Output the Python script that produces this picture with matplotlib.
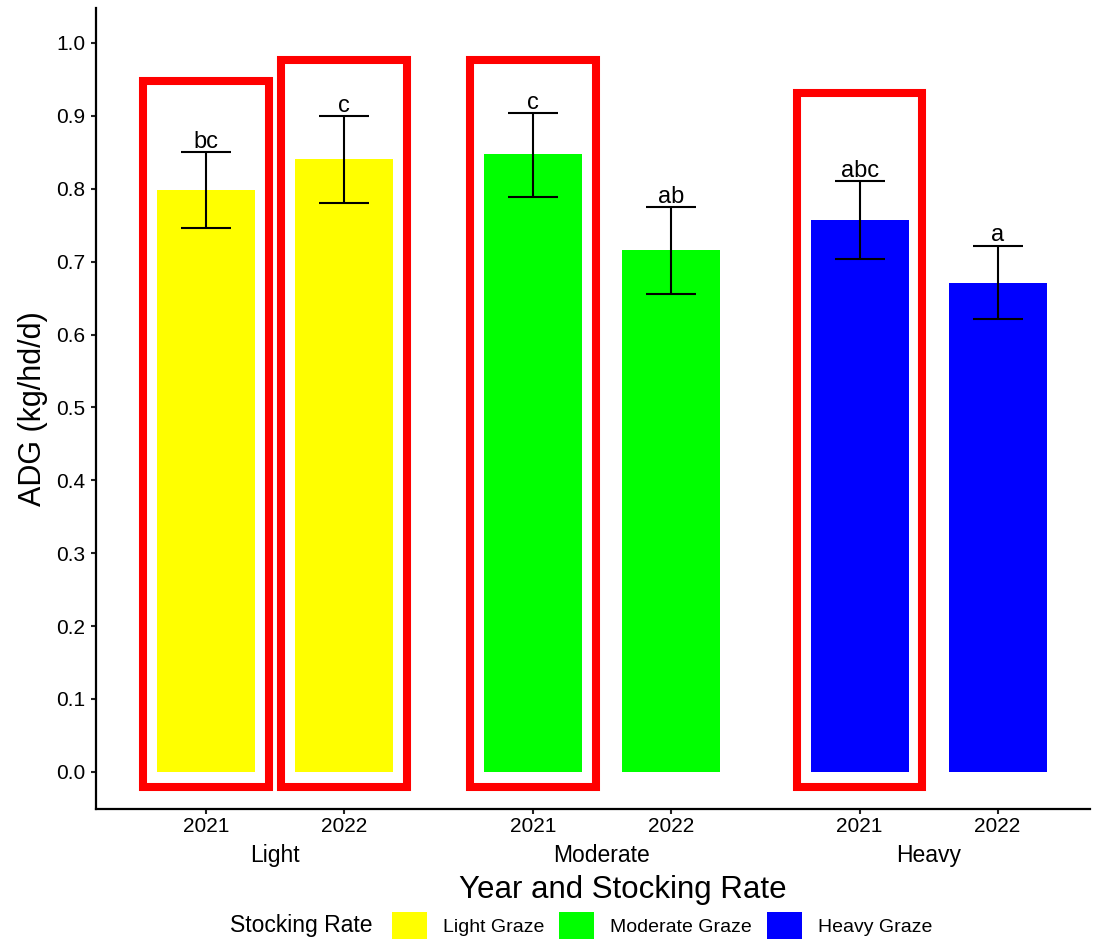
import matplotlib
matplotlib.use('Agg')
import matplotlib.pyplot as plt
from matplotlib.patches import Patch, Rectangle

plt.rcParams['font.family'] = ['Liberation Sans', 'DejaVu Sans']

# data
groups = ['Light', 'Moderate', 'Heavy']
years = ['2021', '2022']
adg = [0.798, 0.841, 0.848, 0.716, 0.757, 0.671]
err_hi = [0.850, 0.900, 0.904, 0.775, 0.811, 0.722]
err_lo = [0.746, 0.781, 0.789, 0.656, 0.704, 0.621]
letters = ['bc', 'c', 'c', 'ab', 'abc', 'a']
box_top = [0.948, 0.977, 0.977, None, 0.931, None]   # red highlight boxes
legend_labels = ['Light Graze', 'Moderate Graze', 'Heavy Graze']
group_colors = ['#FFFF00', '#00FF00', '#0000FF']

group_step = 2.37
xpos = [g * group_step + j for g in range(len(groups)) for j in range(len(years))]
bar_colors = [group_colors[g] for g in range(len(groups)) for j in range(len(years))]

fig = plt.figure(figsize=(10.95, 9.39), dpi=100)
ax = fig.add_axes([0.0877, 0.1384, 0.9077, 0.8531])

ax.bar(xpos, adg, width=0.71, color=bar_colors, zorder=2)
yerr = [[a - lo for a, lo in zip(adg, err_lo)], [hi - a for a, hi in zip(adg, err_hi)]]
ax.errorbar(xpos, adg, yerr=yerr, fmt='none', ecolor='black',
            elinewidth=1.5, capsize=18, capthick=1.5, zorder=3)

for x, hi, lab in zip(xpos, err_hi, letters):
    ax.annotate(lab, (x, hi), xytext=(0, 3), textcoords='offset points',
                ha='center', va='baseline', fontsize=17)

# red boxes around selected bars
for x, top in zip(xpos, box_top):
    if top is None:
        continue
    ax.add_patch(Rectangle((x - 0.455, -0.021), 0.91, top + 0.021, fill=False,
                           edgecolor='#FF0000', linewidth=5.8, zorder=4))

ax.set_xlim(-0.797, 6.41)
ax.set_ylim(-0.051, 1.048)
ax.set_yticks([i / 10 for i in range(11)])
ax.set_yticklabels([f'{i / 10:.1f}' for i in range(11)])
ax.set_xticks(xpos)
ax.set_xticklabels(years * len(groups))
ax.tick_params(axis='both', labelsize=15, width=1.5, length=3.6, color='#222222')
ax.tick_params(axis='y', pad=4.0)
ax.tick_params(axis='x', pad=2.3)

for side in ['top', 'right']:
    ax.spines[side].set_visible(False)
for side in ['left', 'bottom']:
    ax.spines[side].set_linewidth(1.6)

ax.set_ylabel('ADG (kg/hd/d)', fontsize=22)
ax.yaxis.set_label_coords(-0.048, 0.5)

for g, name in enumerate(groups):
    ax.text(g * group_step + 0.5, -0.0662, name, transform=ax.get_xaxis_transform(),
            ha='center', va='baseline', fontsize=16.5)

fig.text(623 / 1095, (939 - 898) / 939, 'Year and Stocking Rate',
         ha='center', va='baseline', fontsize=22.5)

fig.text(230 / 1095, (939 - 932) / 939, 'Stocking Rate', ha='left',
         va='baseline', fontsize=16.5)
handles = [Patch(facecolor=c, edgecolor='none') for c in group_colors]
fig.legend(handles, legend_labels, loc='center left',
           bbox_to_anchor=(392 / 1095, (939 - 926) / 939), ncol=3,
           frameon=False, fontsize=14, handlelength=1.8, handleheight=1.8,
           handletextpad=0.8, columnspacing=0.8, borderpad=0, borderaxespad=0)

fig.savefig('out.png', dpi=100)
